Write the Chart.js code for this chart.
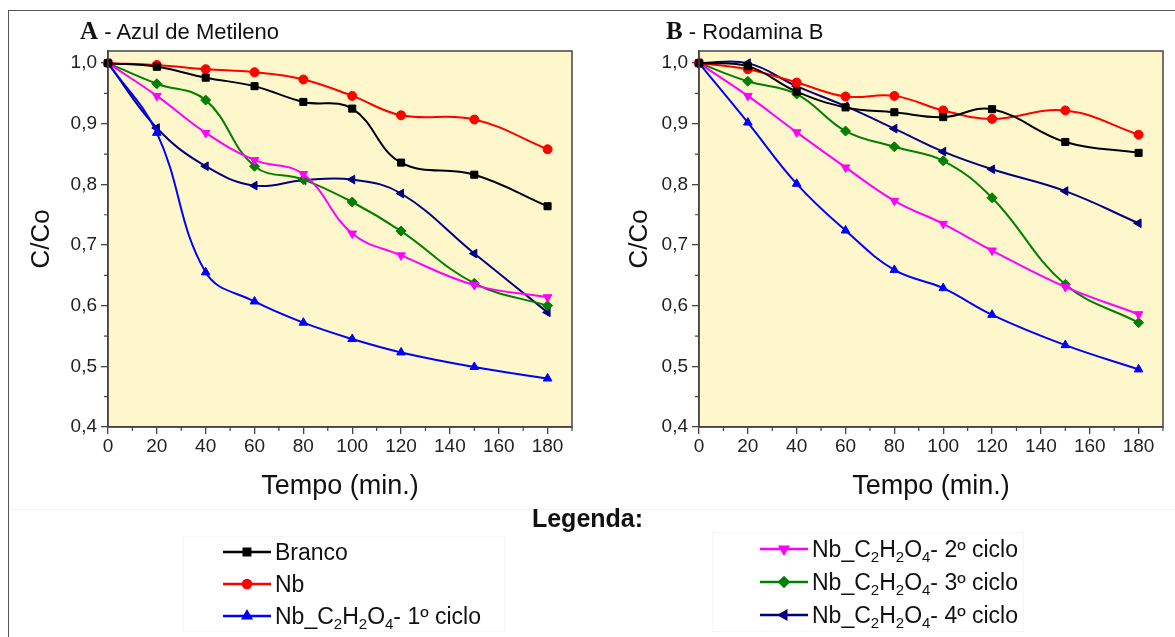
<!DOCTYPE html>
<html>
<head>
<meta charset="utf-8">
<script src="https://cdn.jsdelivr.net/npm/chart.js@4.4.0/dist/chart.umd.min.js"></script>
<style>
  body { margin: 0; background: #fff; font-family: "Liberation Sans", Arial, sans-serif; color: #111; }
  #pagina { position: relative; width: 1175px; height: 637px; overflow: hidden; }
  #moldura { position: absolute; left: 8px; top: 10px; width: 1300px; height: 700px;
             border-top: 1.5px solid #555; border-left: 1.5px solid #555; }
  .painel { position: absolute; top: 0; }
  .titulo { position: absolute; top: 17px; font-size: 22px; white-space: nowrap; }
  .titulo b { font-family: "Liberation Serif", "Times New Roman", serif; font-size: 25px; }
  #legendaTitulo { position: absolute; left: 0; width: 1175px; top: 504px; text-align: center;
                   font-weight: bold; font-size: 25px; }
  .grupo { position: absolute; border: 1px solid #f6f6f6; }
  .item { position: absolute; left: 0; height: 30px; display: flex; align-items: center;
          font-size: 23px; white-space: nowrap; }
  .item canvas { margin-right: 3px; }
  .item sub { font-size: 15px; vertical-align: -5px; line-height: 0; }
  #divisor { position: absolute; left: 10px; top: 509px; width: 1165px; height: 1px; background: #f3f3f3; }
</style>
</head>
<body>
<div id="pagina">
  <div id="moldura"></div>
  <div id="divisor"></div>
  <canvas id="graficoA" class="painel" style="left:0" width="600" height="520"></canvas>
  <canvas id="graficoB" class="painel" style="left:590px" width="585" height="520"></canvas>
  <div class="titulo" style="left:80px"><b>A</b> - Azul de Metileno</div>
  <div class="titulo" style="left:666px"><b>B</b> - Rodamina B</div>
  <div id="legendaTitulo">Legenda:</div>
  <div class="grupo" id="legendaEsq" style="left:183px; top:536px; width:320px; height:94px"></div>
  <div class="grupo" id="legendaDir" style="left:712px; top:532px; width:310px; height:98px"></div>
</div>
<script>
// tempos de coleta (min)
const tempos = [0, 20, 40, 60, 80, 100, 120, 150, 180];
const xMarcas = [0, 20, 40, 60, 80, 100, 120, 140, 160, 180];
const xMenores = [10, 30, 50, 70, 90, 110, 130, 150, 170, 190];
const yMarcas = [0.4, 0.5, 0.6, 0.7, 0.8, 0.9, 1.0];
const yMenores = [0.45, 0.55, 0.65, 0.75, 0.85, 0.95];

// A - Azul de Metileno (C/Co)
const azulBranco = [1.0, 0.994, 0.976, 0.962, 0.936, 0.925, 0.836, 0.816, 0.764];
const azulNb     = [1.0, 0.997, 0.990, 0.985, 0.973, 0.946, 0.914, 0.907, 0.858];
const azulCiclo1 = [1.0, 0.885, 0.655, 0.607, 0.572, 0.545, 0.523, 0.499, 0.480];
const azulCiclo2 = [1.0, 0.946, 0.885, 0.840, 0.817, 0.719, 0.683, 0.634, 0.614];
const azulCiclo3 = [1.0, 0.966, 0.939, 0.830, 0.808, 0.771, 0.723, 0.637, 0.600];
const azulCiclo4 = [1.0, 0.893, 0.830, 0.798, 0.807, 0.808, 0.785, 0.686, 0.589];

// B - Rodamina B (C/Co)
const rodBranco = [1.0, 0.995, 0.953, 0.927, 0.919, 0.911, 0.924, 0.870, 0.852];
const rodNb     = [1.0, 0.990, 0.968, 0.945, 0.946, 0.922, 0.908, 0.922, 0.882];
const rodCiclo1 = [1.0, 0.902, 0.801, 0.724, 0.659, 0.629, 0.585, 0.535, 0.495];
const rodCiclo2 = [1.0, 0.946, 0.886, 0.828, 0.773, 0.735, 0.691, 0.631, 0.586];
const rodCiclo3 = [1.0, 0.970, 0.949, 0.888, 0.862, 0.839, 0.778, 0.635, 0.572];
const rodCiclo4 = [1.0, 1.000, 0.962, 0.929, 0.892, 0.854, 0.825, 0.789, 0.736];

const nomes = ['Branco', 'Nb', 'Nb_C2H2O4- 1º ciclo', 'Nb_C2H2O4- 2º ciclo',
               'Nb_C2H2O4- 3º ciclo', 'Nb_C2H2O4- 4º ciclo'];
const cores = ['#000000', '#ff0000', '#0000ff', '#ff00ff', '#008000', '#000080'];
const simbolos = ['rect', 'circle', 'triangle', 'triangle', 'rectRot', 'triangle'];
const rotacoes = [0, 0, 0, 180, 0, -90];
const raios = [5, 4.5, 5, 5, 5, 5];

const eixoCor = '#444';
const fonteEixo = { family: '"Liberation Sans", Arial, sans-serif', size: 19 };

function rotuloHtml(nome) {
  return nome.replace(/C2H2O4/, 'C<sub>2</sub>H<sub>2</sub>O<sub>4</sub>');
}

const fundoAmarelo = {
  id: 'fundoAmarelo',
  beforeDraw(chart) {
    const a = chart.chartArea, ctx = chart.ctx;
    ctx.save();
    ctx.fillStyle = '#fff7cc';
    ctx.fillRect(a.left, a.top, a.right - a.left, a.bottom - a.top);
    ctx.restore();
  }
};

// contorno do quadro e tracinhos menores dos eixos
const quadro = {
  id: 'quadro',
  afterDraw(chart) {
    const a = chart.chartArea, ctx = chart.ctx;
    const sx = chart.scales.x, sy = chart.scales.y;
    ctx.save();
    ctx.strokeStyle = eixoCor;
    ctx.lineWidth = 1.5;
    ctx.strokeRect(a.left, a.top, a.right - a.left, a.bottom - a.top);
    ctx.lineWidth = 1.2;
    ctx.beginPath();
    xMenores.forEach(v => {
      const px = sx.getPixelForValue(v);
      ctx.moveTo(px, a.bottom);
      ctx.lineTo(px, a.bottom + 4);
    });
    yMenores.forEach(v => {
      const py = sy.getPixelForValue(v);
      ctx.moveTo(a.left, py);
      ctx.lineTo(a.left - 4, py);
    });
    ctx.stroke();
    ctx.restore();
  }
};

function criarPainel(id, series, larguraY, padDir, padTitulo) {
  const ctx = document.getElementById(id);
  return new Chart(ctx, {
    type: 'line',
    data: {
      datasets: series.map((valores, i) => ({
        label: nomes[i],
        data: tempos.map((t, j) => ({ x: t, y: valores[j] })),
        borderColor: cores[i],
        backgroundColor: cores[i],
        borderWidth: 2,
        tension: 0.4,
        pointStyle: simbolos[i],
        rotation: rotacoes[i],
        pointRadius: raios[i],
        pointBorderWidth: 1,
        clip: false
      }))
    },
    options: {
      responsive: false,
      animation: false,
      layout: { padding: { top: 51, right: padDir, left: 0, bottom: 13 } },
      plugins: { legend: { display: false }, tooltip: { enabled: false } },
      scales: {
        x: {
          type: 'linear',
          min: 0,
          max: 190,
          afterBuildTicks: s => { s.ticks = xMarcas.map(v => ({ value: v })); },
          afterFit: s => { s.height = 80; },
          grid: { drawOnChartArea: false, color: eixoCor, tickLength: 7, lineWidth: 1.3 },
          border: { color: eixoCor, width: 1.5 },
          ticks: { color: '#222', font: fonteEixo, padding: 1, maxRotation: 0 },
          title: {
            display: true,
            text: 'Tempo (min.)',
            color: '#111',
            font: { family: '"Liberation Sans", Arial, sans-serif', size: 27 },
            padding: { top: 0, bottom: 4 }
          }
        },
        y: {
          min: 0.4,
          max: 1.02,
          afterBuildTicks: s => { s.ticks = yMarcas.map(v => ({ value: v })); },
          afterFit: s => { s.width = larguraY; },
          grid: { drawOnChartArea: false, color: eixoCor, tickLength: 7, lineWidth: 1.3 },
          border: { color: eixoCor, width: 1.5 },
          ticks: {
            color: '#222',
            font: fonteEixo,
            padding: 4,
            callback: v => v.toFixed(1).replace('.', ',')
          },
          title: {
            display: true,
            text: 'C/Co',
            color: '#111',
            font: { family: '"Liberation Sans", Arial, sans-serif', size: 26 },
            padding: { top: padTitulo, bottom: 0 }
          }
        }
      }
    },
    plugins: [fundoAmarelo, quadro]
  });
}

criarPainel('graficoA', [azulBranco, azulNb, azulCiclo1, azulCiclo2, azulCiclo3, azulCiclo4], 108, 28, 26);
criarPainel('graficoB', [rodBranco, rodNb, rodCiclo1, rodCiclo2, rodCiclo3, rodCiclo4], 109, 12, 34);

// legenda em duas colunas
function montarLegenda(alvo, indices, esquerda, topos) {
  const caixa = document.getElementById(alvo);
  indices.forEach((i, k) => {
    const item = document.createElement('div');
    item.className = 'item';
    item.style.left = esquerda + 'px';
    item.style.top = topos[k] + 'px';
    const amostra = document.createElement('canvas');
    amostra.width = 50;
    amostra.height = 20;
    const c = amostra.getContext('2d');
    c.strokeStyle = cores[i];
    c.lineWidth = 2.5;
    c.beginPath();
    c.moveTo(1, 10);
    c.lineTo(49, 10);
    c.stroke();
    c.fillStyle = cores[i];
    Chart.helpers.drawPoint(c, {
      pointStyle: simbolos[i], rotation: rotacoes[i], radius: raios[i] - 0.5, borderWidth: 1
    }, 25, 10);
    item.appendChild(amostra);
    const texto = document.createElement('span');
    texto.innerHTML = rotuloHtml(nomes[i]);
    item.appendChild(texto);
    caixa.appendChild(item);
  });
}

montarLegenda('legendaEsq', [0, 1, 2], 38, [0, 32, 64]);
montarLegenda('legendaDir', [3, 4, 5], 46, [1, 34, 67]);
</script>
</body>
</html>
